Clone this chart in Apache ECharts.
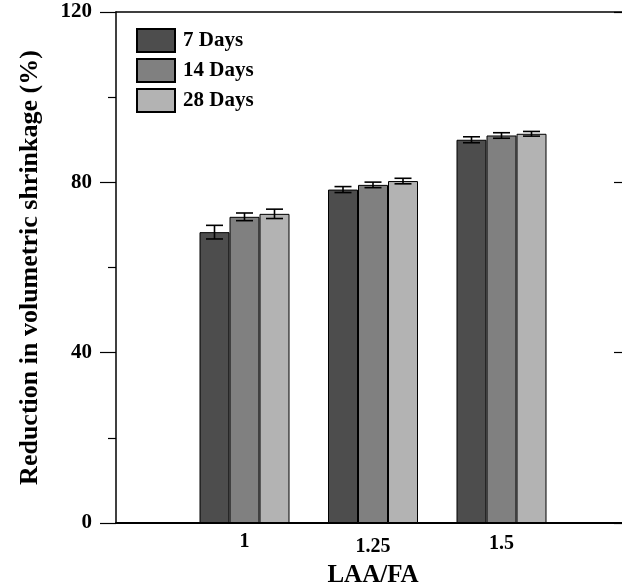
<!DOCTYPE html>
<html>
<head>
<meta charset="utf-8">
<script src="https://cdn.jsdelivr.net/npm/echarts@6/dist/echarts.min.js"></script>
<style>
  html, body { margin: 0; padding: 0; background: #fff; }
  #chart { width: 622px; height: 586px; }
</style>
</head>
<body>
<div id="chart"></div>
<script>
// LAA/FA ratios on the x axis
var ratios = [1, 1.25, 1.5];
// reduction in volumetric shrinkage (%) and error bars
var days7 = [68.3, 78.3, 90.0];
var days14 = [71.9, 79.4, 91.0];
var days28 = [72.6, 80.3, 91.4];
var err7 = [1.6, 0.7, 0.7];
var err14 = [0.9, 0.65, 0.65];
var err28 = [1.1, 0.65, 0.55];
var seriesNames = ['7 Days', '14 Days', '28 Days'];
var xLabels = ['1', '1.25', '1.5'];

var FONT = '"Liberation Serif", "Times New Roman", serif';
var BAR_W = 30;

var chart = echarts.init(document.getElementById('chart'));

function pairs(vals) {
    var out = [];
    for (var i = 0; i < ratios.length; i++) out.push([ratios[i], vals[i]]);
    return out;
}
function triples(vals, errs) {
    var out = [];
    for (var i = 0; i < ratios.length; i++) out.push([ratios[i], vals[i], errs[i]]);
    return out;
}

// error bar drawn over a bar, shifted by offset px from the group centre
function errRender(offset) {
    return function (params, api) {
        var x = api.value(0), y = api.value(1), e = api.value(2);
        var top = api.coord([x, y + e]);
        var bot = api.coord([x, y - e]);
        var cx = top[0] + offset;
        var hw = 8.5;
        var st = { stroke: '#000', lineWidth: 1.6 };
        return {
            type: 'group',
            children: [
                { type: 'line', shape: { x1: cx, y1: top[1], x2: cx, y2: bot[1] }, style: st },
                { type: 'line', shape: { x1: cx - hw, y1: top[1], x2: cx + hw, y2: top[1] }, style: st },
                { type: 'line', shape: { x1: cx - hw, y1: bot[1], x2: cx + hw, y2: bot[1] }, style: st }
            ]
        };
    };
}

var colors = ['#4d4d4d', '#808080', '#b3b3b3'];
var vals = [days7, days14, days28];
var errs = [err7, err14, err28];
var series = [];
for (var s = 0; s < 3; s++) {
    series.push({
        name: seriesNames[s],
        type: 'bar',
        barWidth: BAR_W,
        barGap: '0%',
        itemStyle: { color: colors[s], borderColor: '#000', borderWidth: 1 },
        data: pairs(vals[s])
    });
}
for (var s = 0; s < 3; s++) {
    series.push({
        type: 'custom',
        renderItem: errRender((s - 1) * BAR_W),
        encode: { x: 0, y: 1 },
        z: 5,
        silent: true,
        data: triples(vals[s], errs[s])
    });
}

var option = {
    animation: false,
    backgroundColor: '#fff',
    textStyle: { fontFamily: FONT },
    grid: { left: 116, top: 12, width: 514, height: 511, containLabel: false, outerBoundsMode: 'none' },
    legend: {
        orient: 'vertical',
        left: 131,
        top: 23,
        itemWidth: 38,
        itemHeight: 23,
        itemGap: 5,
        icon: 'rect',
        data: seriesNames,
        textStyle: { fontFamily: FONT, fontWeight: 'bold', fontSize: 21, color: '#000', padding: [0, 0, 0, 3] }
    },
    xAxis: [{
        type: 'value',
        min: 0.75,
        max: 1.75,
        name: 'LAA/FA',
        nameLocation: 'middle',
        nameGap: 40,
        nameTextStyle: { fontFamily: FONT, fontWeight: 'bold', fontSize: 25, color: '#000' },
        axisLine: { show: true, onZero: false, lineStyle: { color: '#000', width: 2 } },
        axisTick: { show: false },
        splitLine: { show: false },
        axisLabel: {
            customValues: ratios,
            margin: 9,
            fontFamily: FONT, fontWeight: 'bold', fontSize: 20, color: '#000',
            formatter: function (v) {
                var i = ratios.indexOf(v);
                var st = ['a', 'b', 'c'][i];
                return '{' + st + '|' + xLabels[i] + '}';
            },
            rich: {
                a: { fontFamily: FONT, fontWeight: 'bold', fontSize: 20, lineHeight: 20, color: '#000' },
                b: { fontFamily: FONT, fontWeight: 'bold', fontSize: 20, lineHeight: 30, color: '#000' },
                c: { fontFamily: FONT, fontWeight: 'bold', fontSize: 20, lineHeight: 24, color: '#000' }
            }
        }
    }, {
        type: 'value',
        position: 'top',
        min: 0.75,
        max: 1.75,
        axisLine: { show: true, onZero: false, lineStyle: { color: '#000', width: 1.5 } },
        axisTick: { show: false },
        axisLabel: { show: false },
        splitLine: { show: false }
    }],
    yAxis: [{
        type: 'value',
        min: 0,
        max: 120,
        interval: 40,
        name: 'Reduction in volumetric shrinkage (%)',
        nameLocation: 'middle',
        nameRotate: 90,
        nameGap: 73,
        nameTextStyle: { fontFamily: FONT, fontWeight: 'bold', fontSize: 26, color: '#000' },
        axisLine: { show: true, onZero: false, lineStyle: { color: '#000', width: 1.5 } },
        axisTick: { show: true, inside: false, length: 16, lineStyle: { color: '#000', width: 1.2 } },
        minorTick: { show: true, splitNumber: 2, length: 8, lineStyle: { color: '#000', width: 1.2 } },
        splitLine: { show: false },
        axisLabel: { margin: 24, fontFamily: FONT, fontWeight: 'bold', fontSize: 21, color: '#000' }
    }, {
        type: 'value',
        position: 'right',
        min: 0,
        max: 120,
        interval: 40,
        axisLine: { show: true, onZero: false, lineStyle: { color: '#000', width: 1.5 } },
        axisTick: { show: true, inside: true, length: 16, lineStyle: { color: '#000', width: 1.2 } },
        minorTick: { show: true, splitNumber: 2, length: 6, lineStyle: { color: '#000', width: 1.2 } },
        splitLine: { show: false },
        axisLabel: { show: false }
    }],
    series: series
};

chart.setOption(option);
</script>
</body>
</html>
